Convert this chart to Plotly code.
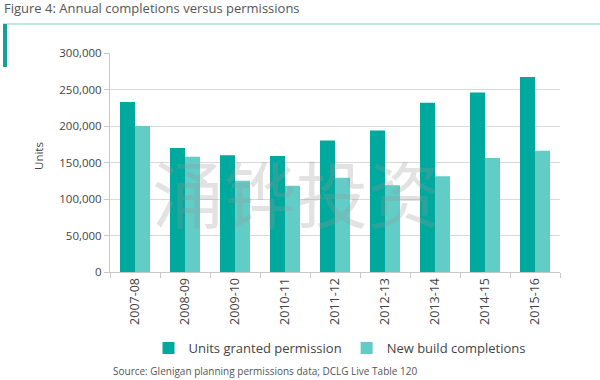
import plotly.graph_objects as go

categories = ["2007-08", "2008-09", "2009-10", "2010-11", "2011-12",
              "2012-13", "2013-14", "2014-15", "2015-16"]
permissions = [233000, 170000, 160000, 159000, 180000, 194000, 232000, 246000, 267000]
completions = [200000, 158000, 125000, 118000, 129000, 119000, 131000, 156000, 166000]
y_ticks = [0, 50000, 100000, 150000, 200000, 250000, 300000]

DARK = "#00A99D"
LIGHT = "#62CCC6"
FONT = "Open Sans"

W, H = 600, 380
# plot area in window pixels: x 110..560, y 53..272
L, R, T, B = 110, W - 560, 53, H - 272
pw, ph = W - L - R, H - T - B

def px(x):
    return (x - L) / pw

def py(y):
    return (H - B - y) / ph

fig = go.Figure()
fig.add_trace(go.Bar(x=categories, y=permissions, name="Units granted permission",
                     marker=dict(color=DARK, line=dict(width=0))))
fig.add_trace(go.Bar(x=categories, y=completions, name="New build completions",
                     marker=dict(color=LIGHT, line=dict(width=0))))

fig.update_layout(
    width=W, height=H,
    margin=dict(l=L, r=R, t=T, b=B, autoexpand=False),
    paper_bgcolor="white", plot_bgcolor="white",
    barmode="group", bargap=0.4, bargroupgap=0,
    font=dict(family=FONT, color="#444444", size=12),
    showlegend=True,
    legend=dict(orientation="h", x=px(340), xanchor="center", y=py(348), yanchor="middle",
                font=dict(size=13, color="#444444"),
                traceorder="normal"),
    xaxis=dict(type="category", tickangle=-90, tickfont=dict(size=12.5, color="#444444"),
               showline=True, linecolor="#c8c8c8", linewidth=1,
               ticks="outside", tickson="boundaries", ticklen=5, tickcolor="#c8c8c8",
               showgrid=False, automargin=False),
    yaxis=dict(range=[0, 300000], tickvals=y_ticks,
               ticktext=[f"{v:,}" for v in y_ticks],
               tickfont=dict(size=11.5, color="#444444"),
               showline=True, linecolor="#c8c8c8", linewidth=1,
               ticks="outside", ticklen=5, tickcolor="#c8c8c8",
               showgrid=True, gridcolor="#d9d9d9", gridwidth=1,
               zeroline=False, automargin=False),
)

fig.add_annotation(text="Units", textangle=-90,
                   xref="paper", yref="paper", x=px(38), y=py(156),
                   xanchor="center", yanchor="middle", showarrow=False,
                   font=dict(size=11.5, color="#444444", family=FONT))
fig.add_annotation(text="Figure 4: Annual completions versus permissions",
                   xref="paper", yref="paper", x=px(2), y=py(8),
                   xanchor="left", yanchor="middle", showarrow=False,
                   font=dict(size=13, color="#555555", family=FONT))
fig.add_annotation(text="Source: Glenigan planning permissions data; DCLG Live Table 120",
                   xref="paper", yref="paper", x=px(111), y=py(371),
                   xanchor="left", yanchor="middle", showarrow=False,
                   font=dict(size=10, color="#555555", family=FONT))
fig.add_annotation(text="涌铧投资",
                   xref="paper", yref="paper", x=px(296), y=py(190),
                   xanchor="center", yanchor="middle", showarrow=False,
                   font=dict(size=72, color="rgba(150,150,150,0.28)",
                             family="Noto Sans CJK SC"))

fig.add_shape(type="line", xref="paper", yref="paper",
              x0=px(3), x1=px(600), y0=py(24), y1=py(24),
              line=dict(color="#7fcbc5", width=1.2))
fig.add_shape(type="line", xref="paper", yref="paper",
              x0=px(5), x1=px(5), y0=py(24), y1=py(67),
              line=dict(color="#16a095", width=4))

fig.write_html("out.html",
               config={"displayModeBar": False},
               post_script="document.body.style.margin='0';document.body.style.overflow='hidden';")
